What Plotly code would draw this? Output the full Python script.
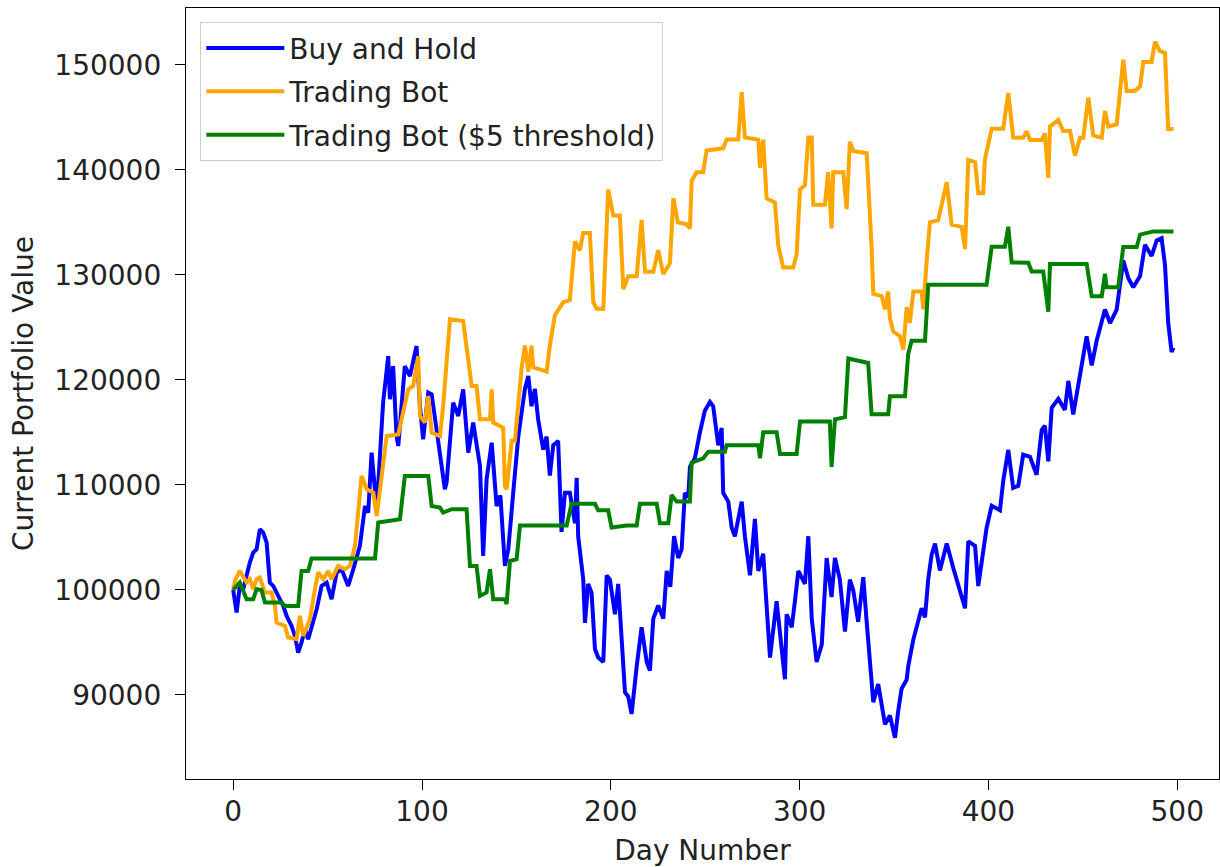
import plotly.graph_objects as go

# ---- data ----
bh_day = [0, 1.8, 3.5, 5.3, 8.8, 10.6, 12.4, 14.1, 15.9, 17.7, 19.4, 21.2, 24.7, 26.5, 28.3, 30.9, 32.7, 34.4,
          36.2, 38, 39.7, 42.4, 44.2, 46.8, 49.5, 52.1, 54.8, 57.4, 60.9, 63.6, 67.1, 69.8, 71.5, 73.3, 76,
          79.4, 82.1, 83, 84.7, 86.5, 87.4, 90.9, 93.6, 97.1, 98.9, 100.6, 103.3, 105.1, 107.7, 112.1, 113,
          116.5, 119.2, 121.8, 124.5, 127.1, 130.7, 132.4, 134.2, 136.9, 139.5, 141.5, 143.9, 145.7, 148.3,
          151, 154.5, 156.3, 158, 159.8, 161.5, 164.2, 166, 167.7, 169.5, 172.1, 173.9, 175.7, 178.3, 181,
          181.9, 182.7, 185.4, 186.3, 188, 189.8, 191.6, 193.3, 196, 197.8, 199.5, 202.2, 203.9, 205.7, 207.5,
          209.2, 211, 213.7, 216.3, 219, 220.7, 222.5, 225.1, 227.8, 229.6, 231.5, 233.5, 235.7, 237.5, 239.2,
          241, 241.9, 244.5, 247.2, 249.8, 252.5, 254.2, 256.9, 258.7, 259.5, 262.2, 264, 265.7, 269.3, 271,
          273.7, 276.3, 278.1, 280.7, 282.5, 284.3, 287.8, 290.5, 292.2, 293.1, 295.8, 297.5, 299.3, 302.8,
          304.6, 306.4, 309, 311.7, 314.3, 316.9, 318.7, 321.3, 324, 326.6, 328.4, 331, 333.7, 335.5, 337.2,
          339, 341.6, 345.2, 347.8, 350.5, 352.2, 354, 356.7, 357.5, 360.2, 362.8, 364.6, 366.4, 368.1, 369.9,
          371.7, 374.3, 377.9, 381.4, 384, 387.6, 389.3, 392.9, 394.6, 397.2, 399, 401.7, 406.1, 407.8, 410.5,
          413.1, 415.8, 418.4, 422, 425.5, 428.2, 429.9, 431.7, 433.5, 437, 440.5, 442.3, 444.9, 448.5, 452,
          454.7, 457.3, 461.7, 464.4, 467.9, 471.4, 474.1, 476.7, 480.3, 482.9, 486.4, 489.1, 491.7, 493.5,
          495.2, 497, 498]
bh_val = [100000, 97850, 100380, 100070, 102610, 103560, 103870, 105780, 105460, 104510, 100700, 100380, 99120,
          98480, 97530, 96570, 95620, 94040, 95000, 96260, 95310, 96900, 98160, 100380, 100700, 99120, 101660,
          101970, 100380, 101970, 104190, 107990, 107360, 113070, 107680, 117830, 122260, 118150, 121310, 114650,
          113700, 121310, 120360, 123220, 117510, 114340, 118780, 118620, 115290, 109590, 110220, 117830, 116560,
          119100, 113070, 115930, 111800, 103240, 110530, 114020, 107990, 109000, 102300, 103870, 109240, 114600,
          119130, 120370, 117490, 119130, 116240, 113360, 114600, 110890, 113770, 114190, 105520, 109240, 109240,
          106350, 110680, 105110, 100980, 96860, 100570, 99740, 94380, 93560, 93140, 101390, 100980, 97680,
          100570, 95610, 90260, 89840, 88190, 92730, 96440, 93140, 92320, 97270, 98510, 97270, 101810, 100300,
          105110, 103040, 103870, 109240, 108820, 111710, 112530, 115010, 117070, 117900, 117490, 113770, 115420,
          109240, 108410, 105940, 105110, 108410, 105110, 101390, 106760, 101810, 103450, 98510, 93560, 98920,
          94800, 91490, 97680, 96440, 98920, 101810, 100570, 105110, 97270, 93140, 94800, 103040, 99330, 103040,
          100980, 96030, 100980, 99940, 96970, 101220, 96970, 92730, 89320, 91030, 87200, 88050, 85930, 88480,
          90600, 91460, 92730, 95270, 96970, 98250, 97400, 101010, 103350, 104410, 101860, 104410, 102070,
          100370, 98250, 104620, 104200, 100370, 103350, 105900, 108020, 107590, 110350, 113330, 109710, 109910,
          112880, 112670, 110970, 115220, 115640, 112250, 117350, 118190, 117140, 119900, 116710, 120740, 124140,
          121380, 123720, 126690, 125410, 126690, 131360, 129670, 128810, 129880, 132860, 131790, 133270, 133480,
          130940, 125410, 122650, 123080]

tb_day = [0, 1, 3.5, 5.3, 7.1, 8.8, 10.6, 12.4, 14.1, 16.8, 20.3, 22.1, 23, 27.4, 29.1, 33.6, 35.3, 37.1, 40.6,
          43.3, 45, 47.7, 50.3, 52.1, 55.6, 59.2, 61.8, 64.5, 68, 70.7, 74.2, 76, 78.6, 81.3, 87.4, 92.7, 95.3,
          98, 98.9, 101.5, 103.3, 105.1, 109.5, 111.2, 114.8, 121.8, 126.3, 128.9, 130.7, 136, 136.9, 137.7, 143,
          143.9, 144.8, 147.5, 149.2, 152.8, 154.5, 156.3, 158, 158.9, 166, 167.7, 170.4, 173, 174.8, 178.3, 181,
          183.6, 185.4, 188.9, 190.7, 192.5, 196, 198.6, 201.3, 204.8, 206.6, 209.2, 213.7, 216.3, 218.1, 222.5,
          225.1, 227.8, 231.3, 233.1, 235.5, 240.1, 241.9, 242.8, 245.4, 248.9, 250.7, 259.5, 261.3, 267.5,
          269.3, 271, 278.1, 279, 280.7, 282.5, 286.9, 288.7, 291.3, 296.6, 298.4, 300.2, 302.8, 304.6, 306.4,
          307.2, 313.4, 315.1, 316.9, 317.8, 323.1, 324.9, 326.6, 328.4, 335.5, 338.1, 339, 343.4, 345.2, 346.9,
          347.8, 349.6, 353.1, 354.9, 356.7, 358.4, 360.2, 364.6, 365.5, 367.3, 369, 373.4, 377.9, 380.5, 385.8,
          387.6, 389.3, 392.9, 394.6, 397.2, 398.1, 401.7, 407.8, 410.5, 413.1, 418.4, 420.2, 422, 428.2, 429.9,
          431.7, 432.6, 437, 439.6, 443.2, 445.8, 448.5, 450.2, 452.9, 455.5, 460, 461.7, 463.5, 467.9, 471.4,
          473.2, 477.6, 480.3, 482, 486.4, 488.2, 490.8, 493.5, 495.2, 498]
tb_val = [100000, 100900, 101810, 101330, 100700, 101020, 100070, 101020, 101180, 99750, 99750, 98480, 96900,
          96570, 95470, 95310, 97530, 95620, 97210, 100070, 101660, 101020, 101810, 101020, 102280, 101970,
          102300, 104190, 110850, 109580, 109270, 107040, 110530, 114650, 114810, 119100, 119410, 122260, 116560,
          115930, 118460, 114970, 114650, 117510, 125760, 125600, 119410, 119410, 116240, 116240, 119100, 115930,
          115450, 109900, 109580, 114190, 114190, 121200, 123260, 120790, 123260, 121200, 120790, 123260, 126150,
          126980, 127390, 127590, 133170, 132340, 133990, 133990, 127390, 126770, 126770, 138120, 135640, 135640,
          128630, 129870, 129870, 135230, 130280, 130280, 132340, 130070, 131100, 137290, 135000, 134810, 134410,
          138940, 139770, 139770, 141830, 142040, 142870, 142870, 147400, 143070, 142870, 140180, 142870, 137290,
          136880, 132750, 130690, 130690, 131930, 138120, 138530, 143070, 143070, 136670, 136670, 139770, 134410,
          139770, 139770, 136260, 142660, 141790, 141570, 132660, 128190, 127980, 126710, 128410, 125860, 124590,
          124160, 122880, 126920, 125430, 128410, 128410, 126710, 131380, 134990, 135200, 138810, 134780, 134570,
          132450, 140940, 140720, 137760, 137760, 140940, 143910, 143910, 147310, 143070, 143040, 143680, 142840,
          142840, 143470, 139220, 144110, 144750, 143680, 143680, 141340, 143040, 143040, 146870, 143260, 143040,
          145590, 144110, 144320, 150480, 147510, 147510, 147930, 150270, 150270, 152180, 151320, 151110, 143890,
          143890]

th_day = [0, 3.5, 7.1, 10.6, 12.4, 15, 16.8, 25.6, 27.4, 34.4, 36.2, 39.7, 41.5, 75.1, 76.8, 88.3, 90.9, 103.3,
          105.1, 109.5, 111.2, 115.7, 123.6, 125.4, 128.9, 130.7, 134.2, 136, 137.7, 143.9, 144.8, 146.6, 150.1,
          151.9, 176.6, 179.2, 191.6, 193.3, 198.6, 200.4, 208.4, 213.7, 215.4, 224.3, 226, 230.4, 232.2, 234.8,
          241.9, 242.8, 248.9, 251.6, 260.4, 261.3, 278.1, 279, 279.9, 280.7, 287.8, 289.6, 298.4, 300.2, 316,
          316.9, 318.7, 324, 325.8, 336.3, 338.1, 346.9, 347.8, 355.8, 357.5, 359.3, 366.4, 368.1, 399, 401.7,
          408.7, 410.5, 412.3, 421.1, 422.9, 429, 431.7, 432.6, 452, 454.7, 460, 461.7, 462.6, 468.7, 471.4,
          478.5, 480.3, 487.3, 498]
th_val = [100000, 100700, 99120, 99120, 100070, 100000, 98800, 98800, 98480, 98480, 101810, 101810, 103000,
          103000, 106410, 106730, 110850, 110850, 107990, 107840, 107360, 107680, 107680, 102280, 102280, 99430,
          99750, 101970, 99120, 99120, 98640, 102760, 102920, 106140, 106140, 108200, 108200, 107580, 107580,
          105940, 106140, 106140, 108200, 108200, 106350, 106350, 109030, 108410, 108410, 112120, 112530, 113150,
          113150, 113770, 113770, 112530, 113770, 115010, 115010, 112950, 112950, 116040, 116040, 111710, 116240,
          116450, 122030, 121610, 116730, 116730, 118430, 118430, 122470, 123730, 123730, 129050, 129050, 132660,
          132660, 134570, 131170, 131150, 130310, 130310, 126480, 131030, 131030, 127960, 127960, 130090, 128810,
          128810, 132640, 132640, 133830, 134130, 134130]

series_names = ["Buy and Hold", "Trading Bot", "Trading Bot ($5 threshold)"]
series_colors = ["#0000ff", "#ffa500", "#008000"]

x_ticks = [0, 100, 200, 300, 400, 500]
y_ticks = [90000, 100000, 110000, 120000, 130000, 140000, 150000]

FONT = "DejaVu Sans"
FS = 28

fig = go.Figure()
for i, (xs, ys) in enumerate([(bh_day, bh_val), (tb_day, tb_val), (th_day, th_val)]):
    fig.add_trace(go.Scatter(
        x=xs, y=ys, mode="lines", name=series_names[i],
        line=dict(color=series_colors[i], width=4),
        legendgroup=f"g{i}",
    ))

axis_common = dict(
    showgrid=False, zeroline=False, showline=True, mirror=True,
    linecolor="black", linewidth=1.3, ticks="outside", ticklen=10, tickwidth=1.3,
    tickcolor="black", tickfont=dict(family=FONT, size=FS, color="#222222"),
)

fig.update_layout(
    width=1220, height=867,
    margin=dict(l=186, r=1, t=8, b=88),
    paper_bgcolor="white", plot_bgcolor="white",
    font=dict(family=FONT, size=FS, color="#222222"),
    xaxis=dict(range=[-25, 522.1], tickvals=x_ticks, ticktext=[str(v) for v in x_ticks],
               title=dict(text="Day Number", font=dict(family=FONT, size=FS), standoff=15),
               automargin=False, ticklabelstandoff=-3, **axis_common),
    yaxis=dict(range=[82000, 155400], tickvals=y_ticks, ticktext=[str(v) for v in y_ticks],
               title=dict(text="Current Portfolio Value", font=dict(family=FONT, size=FS), standoff=12),
               automargin=False, ticklabelstandoff=8, **axis_common),
    legend=dict(
        x=0.0136, y=0.982, xanchor="left", yanchor="top",
        bgcolor="rgba(255,255,255,0.8)", bordercolor="#cccccc", borderwidth=1.3,
        font=dict(family=FONT, size=FS, color="#222222"),
        tracegroupgap=4, itemwidth=78,
    ),
    showlegend=True,
)

fig.write_html("out.html")
